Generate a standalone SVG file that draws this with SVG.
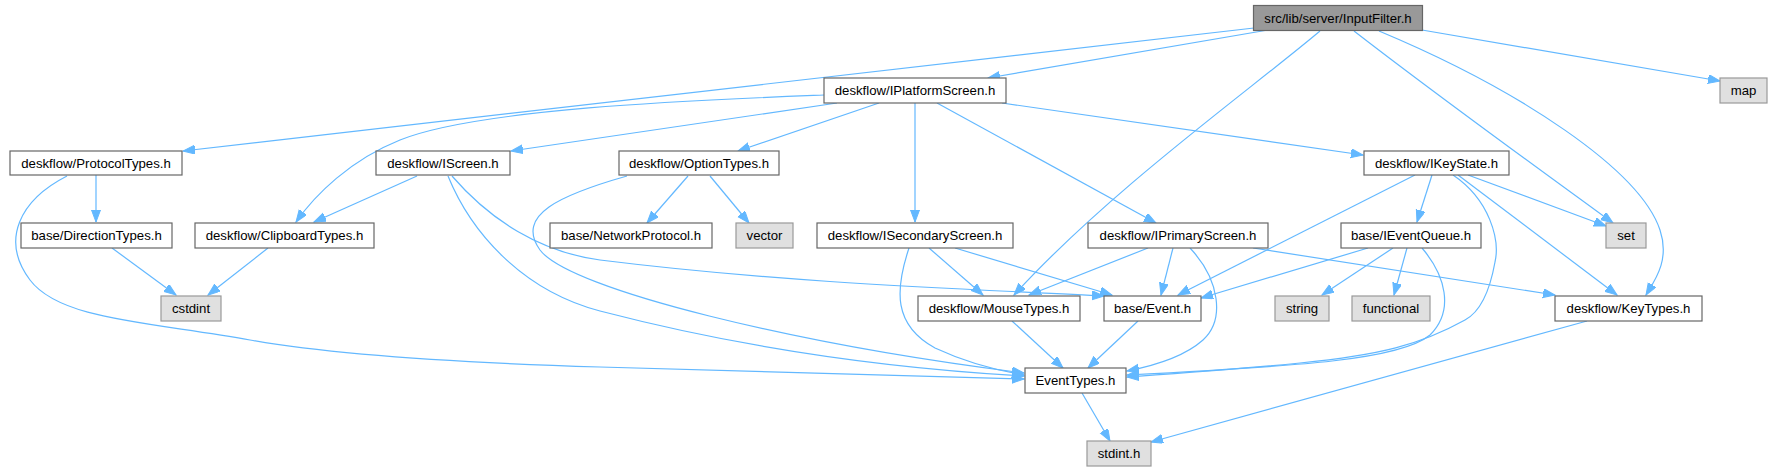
<svg xmlns="http://www.w3.org/2000/svg" width="1772" height="471" viewBox="0 0 1772 471">
<style>
.n rect{fill:#ffffff;stroke:#666666;stroke-width:1.2}
.n.sys rect{fill:#e0e0e0;stroke:#999999}
.n.root rect{fill:#999999;stroke:#666666}
.n text{font-family:"Liberation Sans",Arial,sans-serif;font-size:13.2px;fill:#000000;text-anchor:middle}
.e path{fill:none;stroke:#63b8ff;stroke-width:1.2;marker-end:url(#arr)}
</style>
<defs>
<marker id="arr" markerUnits="userSpaceOnUse" markerWidth="13" markerHeight="10" refX="12" refY="4.5" orient="auto">
<path d="M0,0 L12,4.5 L0,9 z" fill="#63b8ff" stroke="#63b8ff" stroke-width="1"/>
</marker>
</defs>
<rect width="1772" height="471" fill="#ffffff"/>
<g id="edges" class="e">
<path d="M1254,28 L183,151"/>
<path d="M1268,30 L988,78"/>
<path d="M1320,31 C1250,90 1110,190 1014,295"/>
<path d="M1354,31 C1430,90 1540,170 1613,223"/>
<path d="M1379,31 C1520,90 1640,170 1660,230 C1670,260 1655,280 1646,295"/>
<path d="M1422,30 L1720,81"/>
<path d="M824,95 C700,100 480,108 400,140 C350,160 315,195 296,222"/>
<path d="M837,103 L511,151"/>
<path d="M879,103 L738,151"/>
<path d="M915,103 L915,222"/>
<path d="M937,103 L1156,223"/>
<path d="M1002,103 L1363,155"/>
<path d="M96,175 L96,222"/>
<path d="M67,176 C20,200 0,240 30,280 C60,320 150,322 250,340 C350,358 500,364 600,367 C800,372 950,377 1024,379"/>
<path d="M112,248 L176,295"/>
<path d="M268,248 L208,295"/>
<path d="M417,176 L314,222"/>
<path d="M448,176 C470,230 520,290 600,311 C750,350 900,369 1024,376"/>
<path d="M452,176 C490,220 540,252 600,260 C800,285 1000,290 1104,296"/>
<path d="M627,176 C560,195 515,215 540,250 C570,290 800,345 1024,373"/>
<path d="M688,176 L647,223"/>
<path d="M710,176 L749,223"/>
<path d="M909,248 C895,290 893,325 935,348 C965,362 995,370 1024,375"/>
<path d="M929,248 L983,295"/>
<path d="M955,248 L1112,295"/>
<path d="M1148,248 L1029,295"/>
<path d="M1173,248 L1161,295"/>
<path d="M1190,248 C1220,280 1225,320 1203,340 C1185,356 1158,365 1127,371"/>
<path d="M1253,248 L1555,295"/>
<path d="M1415,175 L1178,295"/>
<path d="M1432,175 L1417,222"/>
<path d="M1453,175 C1490,200 1500,240 1495,262 C1490,290 1480,312 1465,320 C1420,345 1380,355 1300,363 C1230,370 1170,374 1127,377"/>
<path d="M1468,175 L1606,226"/>
<path d="M1458,175 L1617,295"/>
<path d="M1368,248 L1201,298"/>
<path d="M1393,248 L1322,295"/>
<path d="M1407,248 L1394,295"/>
<path d="M1422,248 C1445,275 1455,310 1430,335 C1400,360 1300,366 1127,375"/>
<path d="M1587,321 L1151,442"/>
<path d="M1012,321 L1063,368"/>
<path d="M1138,321 L1088,368"/>
<path d="M1082,393 L1110,441"/>
</g>
<g id="n_inputfilter" class="n root"><rect x="1253.5" y="5.5" width="169" height="25"/><text x="1338" y="22.5">src/lib/server/InputFilter.h</text></g>
<g id="n_iplatformscreen" class="n"><rect x="824" y="78" width="182" height="25"/><text x="915" y="95">deskflow/IPlatformScreen.h</text></g>
<g id="n_map" class="n sys"><rect x="1720" y="78" width="47" height="25"/><text x="1743.5" y="95">map</text></g>
<g id="n_protocoltypes" class="n"><rect x="10" y="151" width="172" height="24"/><text x="96" y="167.5">deskflow/ProtocolTypes.h</text></g>
<g id="n_iscreen" class="n"><rect x="376" y="151" width="134" height="24"/><text x="443" y="167.5">deskflow/IScreen.h</text></g>
<g id="n_optiontypes" class="n"><rect x="619" y="151" width="160" height="24"/><text x="699" y="167.5">deskflow/OptionTypes.h</text></g>
<g id="n_ikeystate" class="n"><rect x="1364" y="151" width="145" height="24"/><text x="1436.5" y="167.5">deskflow/IKeyState.h</text></g>
<g id="n_directiontypes" class="n"><rect x="21" y="223" width="151" height="25"/><text x="96.5" y="240">base/DirectionTypes.h</text></g>
<g id="n_clipboardtypes" class="n"><rect x="195" y="223" width="179" height="25"/><text x="284.5" y="240">deskflow/ClipboardTypes.h</text></g>
<g id="n_networkprotocol" class="n"><rect x="550" y="223" width="162" height="25"/><text x="631" y="240">base/NetworkProtocol.h</text></g>
<g id="n_vector" class="n sys"><rect x="736" y="223" width="57" height="25"/><text x="764.5" y="240">vector</text></g>
<g id="n_isecondaryscreen" class="n"><rect x="817" y="223" width="196" height="25"/><text x="915" y="240">deskflow/ISecondaryScreen.h</text></g>
<g id="n_iprimaryscreen" class="n"><rect x="1088" y="223" width="180" height="25"/><text x="1178" y="240">deskflow/IPrimaryScreen.h</text></g>
<g id="n_ieventqueue" class="n"><rect x="1341" y="223" width="140" height="25"/><text x="1411" y="240">base/IEventQueue.h</text></g>
<g id="n_set" class="n sys"><rect x="1606" y="223" width="40" height="25"/><text x="1626" y="240">set</text></g>
<g id="n_cstdint" class="n sys"><rect x="161" y="296" width="60" height="25"/><text x="191" y="313">cstdint</text></g>
<g id="n_mousetypes" class="n"><rect x="918" y="296" width="162" height="25"/><text x="999" y="313">deskflow/MouseTypes.h</text></g>
<g id="n_event" class="n"><rect x="1104" y="296" width="97" height="25"/><text x="1152.5" y="313">base/Event.h</text></g>
<g id="n_string" class="n sys"><rect x="1275" y="296" width="54" height="25"/><text x="1302" y="313">string</text></g>
<g id="n_functional" class="n sys"><rect x="1352" y="296" width="78" height="25"/><text x="1391" y="313">functional</text></g>
<g id="n_keytypes" class="n"><rect x="1555" y="296" width="147" height="25"/><text x="1628.5" y="313">deskflow/KeyTypes.h</text></g>
<g id="n_eventtypes" class="n"><rect x="1025" y="368" width="101" height="25"/><text x="1075.5" y="385">EventTypes.h</text></g>
<g id="n_stdint" class="n sys"><rect x="1087" y="441" width="64" height="25"/><text x="1119" y="458">stdint.h</text></g>
</svg>
